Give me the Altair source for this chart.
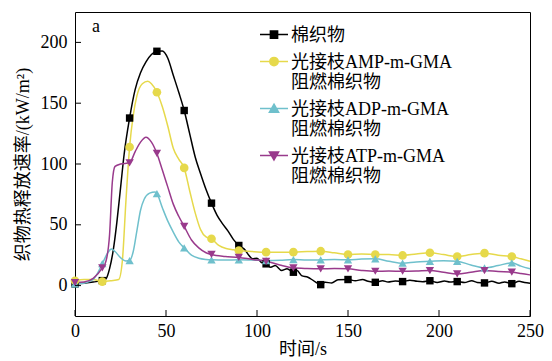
import altair as alt
import pandas as pd

# ---------------- data ----------------
series_names = ["棉织物", "光接枝AMP-m-GMA|阻燃棉织物", "光接枝ADP-m-GMA|阻燃棉织物", "光接枝ATP-m-GMA|阻燃棉织物"]
series_colors = ["#000000", "#E6D94B", "#6FC0CC", "#993A8C"]
marker_shapes = ["square", "circle", "triangle-up", "triangle-down"]
marker_sizes = [55, 75, 70, 70]

x_ticks = [0, 50, 100, 150, 200, 250]
y_ticks = [0, 50, 100, 150, 200]

# curves (time s, heat release rate kW/m2)
cot_t = [0, 5, 10, 15, 17, 19, 21, 23, 25, 27, 30, 33, 36, 39, 42, 45, 48, 51, 54, 57,
         60, 63, 66, 69, 72, 75, 78, 81, 84, 87, 90, 93, 95.5, 97.5, 100, 102.5, 105, 107.5, 110, 113.5,
         116.5, 120, 122, 124.5, 128, 131, 135, 137.5, 141, 144.5, 150, 154, 158, 161, 165, 169, 172, 176, 180, 184,
         188, 191, 195, 199, 203, 206, 210, 214, 218, 221, 225, 229, 233, 236, 240, 244, 247, 250]
cot_y = [1.4, 2, 3, 4.1, 5.5, 14, 29, 52, 80, 108, 137.8, 161, 175, 184, 190, 192.7, 193, 187, 173, 159,
         144, 125, 106, 92, 79, 67.8, 58, 51, 45, 38, 33, 30, 25, 22, 22.5, 19, 17.9, 15, 16.5, 12.5,
         13.8, 11, 12.4, 8.2, 6.9, 4.1, 0.8, 2.7, 2.2, 4.9, 5, 4, 5, 3.5, 2.7, 4, 3, 3.8, 3.3, 4.5,
         3.5, 3.2, 4, 2.6, 3.8, 3, 3.3, 2.5, 4, 2.6, 2.2, 3.5, 2, 3, 1.6, 3.5, 2.5, 2]

amp_t = [0, 5, 10, 15, 20, 24, 26, 28, 30, 32, 34, 37, 40, 42, 45, 48, 51, 54, 57, 60,
         63, 66, 69, 72, 75, 79, 83, 87, 90, 97.5, 105, 112.5, 120, 127.5, 135, 142.5, 150, 157.5, 165, 172.5,
         180, 187.5, 195, 202.5, 210, 217.5, 225, 232.5, 240, 245, 250]
amp_y = [4, 5, 5, 3.3, 4, 5, 20, 70, 114, 140, 156, 166, 168, 166, 159, 147, 131, 113, 104, 96.8,
         78, 60, 46, 40, 38.5, 33, 30.5, 29.5, 28.9, 28, 27.5, 27.5, 27.5, 28, 28.3, 27, 25.6, 26, 25.6, 25.5,
         24.8, 26, 27, 25.5, 23.9, 25.5, 26.7, 25, 23.9, 22, 20]

adp_t = [0, 5, 10, 15, 18, 20, 22, 25, 28, 30, 32, 34, 36, 38, 41, 44, 45, 48, 51, 54,
         57, 60, 64, 68, 72, 75, 82.5, 90, 97.5, 105, 112.5, 120, 127.5, 135, 142.5, 150, 157.5, 165, 172.5, 180,
         187.5, 195, 202.5, 210, 217.5, 225, 232.5, 240, 245, 250]
adp_y = [1.5, 2, 5, 18, 27, 30, 28, 23, 20.2, 20.6, 28, 45, 62, 71, 76, 77, 75.7, 64, 53, 44,
         36, 31, 25, 22.5, 21.5, 21.2, 21, 21.2, 21, 20.6, 20.8, 21.4, 21, 21.2, 21.5, 21.2, 21.8, 22, 20, 18.4,
         19.5, 20, 20.5, 20, 17, 14.6, 16.5, 18.7, 16, 13.8]

atp_t = [0, 5, 10, 15, 17, 19, 20.5, 22, 25, 30, 33, 36, 39, 42, 45, 48, 51, 54, 57, 60,
         64, 68, 72, 75, 82.5, 90, 97.5, 105, 112.5, 120, 127.5, 135, 142.5, 150, 157.5, 165, 172.5, 180, 187.5, 195,
         202.5, 210, 217.5, 225, 232.5, 240, 245, 250]
atp_y = [2.5, 3, 6, 14.5, 20, 42, 85, 98, 100, 101, 110, 118, 122, 118, 108.7, 95, 81, 67, 57, 48.7,
         37.5, 31, 27, 25.6, 24, 23.2, 21.5, 20, 17, 14.6, 14, 13.8, 14, 13.8, 12.5, 11.8, 12, 11.8, 12, 12.4,
         11, 9.6, 11, 12.4, 11.5, 11, 10, 8.8]

# markers every 15 s
marker_t = [0, 15, 30, 45, 60, 75, 90, 105, 120, 135, 150, 165, 180, 195, 210, 225, 240]
cot_m = [1.4, 4.1, 137.8, 192.7, 144, 67.8, 33, 17.9, 11, 0.8, 5, 2.7, 3.3, 4, 3.3, 2.2, 1.6]
amp_m = [4, 3.3, 114, 159, 96.8, 38.5, 28.9, 27.5, 27.5, 28.3, 25.6, 25.6, 24.8, 27, 23.9, 26.7, 23.9]
adp_m = [1.5, 18, 20.6, 75.7, 31, 21.2, 21.2, 20.6, 21.4, 21.2, 21.2, 22, 18.4, 20, 20, 14.6, 18.7]
atp_m = [2.5, 14.5, 101, 108.7, 48.7, 25.6, 23.2, 20, 14.6, 13.8, 13.8, 11.8, 11.8, 12.4, 9.6, 12.4, 11]

# ---------------- tables ----------------
line_sets = [(cot_t, cot_y), (amp_t, amp_y), (adp_t, adp_y), (atp_t, atp_y)]
mark_sets = [cot_m, amp_m, adp_m, atp_m]
line_rows, mark_rows = [], []
for i, name in enumerate(series_names):
    tt, yy = line_sets[i]
    for k, (a, b) in enumerate(zip(tt, yy)):
        line_rows.append({"t": a, "v": b, "s": name, "o": k})
    for a, b in zip(marker_t, mark_sets[i]):
        mark_rows.append({"t": a, "v": b, "s": name})
df_line = pd.DataFrame(line_rows)
df_mark = pd.DataFrame(mark_rows)
df_xt = pd.DataFrame({"t": x_ticks})
df_yt = pd.DataFrame({"v": y_ticks})

W, H = 455, 304
SERIF = "Liberation Serif, Noto Sans CJK SC"

xs = alt.Scale(domain=[0, 250], nice=False, zero=False)
ys = alt.Scale(domain=[-25, 225], nice=False, zero=False)
x_axis = alt.Axis(values=x_ticks, ticks=False, domain=False, grid=False, labelPadding=6,
                  labelFlush=False, title="时间/s", titlePadding=0, format="d")
y_axis = alt.Axis(values=y_ticks, ticks=False, domain=False, grid=False, labelPadding=8,
                  labelFlush=False, title="织物热释放速率/(kW/m²)", titlePadding=8, format="d")

cscale = alt.Scale(domain=series_names, range=series_colors)

leg = alt.Legend(title=None, orient="none", legendX=190, legendY=6, padding=0,
                 labelExpr="split(datum.label, '|')", labelFont=SERIF, labelFontSize=18,
                 labelBaseline="top", labelColor="#000", labelLimit=0,
                 symbolSize=64, symbolStrokeWidth=1.5, symbolOffset=0, labelOffset=8,
                 rowPadding=0)

X = alt.X("t:Q", scale=xs, axis=x_axis)
Y = alt.Y("v:Q", scale=ys, axis=y_axis)
C = alt.Color("s:N", scale=cscale, legend=leg)

lines = alt.Chart(df_line).mark_line(strokeWidth=1.5, interpolate="monotone").encode(
    x=X, y=Y, color=C, order="o:Q")

point_layers = []
for i, name in enumerate(series_names):
    point_layers.append(
        alt.Chart(df_mark).transform_filter(alt.datum.s == name).mark_point(
            shape=marker_shapes[i], filled=True, size=marker_sizes[i], opacity=1
        ).encode(x=X, y=Y, color=C)
    )

# legend symbols: line with marker in the middle (custom paths)
sq = "M-3.5,1.9H3.5M-0.9,1H0.9V2.8H-0.9Z"
ci = "M-3.5,1.9H3.5M-1.05,1.9A1.05,1.05,0,1,0,1.05,1.9A1.05,1.05,0,1,0,-1.05,1.9Z"
tu = "M-3.5,1.9H3.5M0,0.8L1.15,2.8L-1.15,2.8Z"
td = "M-3.5,1.9H3.5M0,3.0L1.15,1.0L-1.15,1.0Z"
legend_paths = [sq, ci, tu, td]

legend_layer = alt.Chart(df_mark).transform_filter("false").mark_point(filled=True, opacity=1, size=64).encode(
    x=X, y=Y,
    color=C,
    stroke=alt.Stroke("s:N", scale=alt.Scale(domain=series_names, range=series_colors), legend=leg),
    shape=alt.Shape("s:N", scale=alt.Scale(domain=series_names, range=legend_paths), legend=leg),
)

xt = alt.Chart(df_xt).mark_rule(color="#000", strokeWidth=1).encode(
    x=X, y=alt.value(H), y2=alt.value(H - 6))
yt = alt.Chart(df_yt).mark_rule(color="#000", strokeWidth=1).encode(
    y=Y, x=alt.value(0), x2=alt.value(6))

label_a = alt.Chart(pd.DataFrame({"lab": ["a"]})).mark_text(
    font="Liberation Serif", fontSize=18, align="left", baseline="alphabetic", color="#000"
).encode(text="lab:N", x=alt.value(17), y=alt.value(20))

chart = alt.layer(lines, *point_layers, legend_layer, xt, yt, label_a).properties(
    width=W, height=H,
    padding={"left": 67, "top": 4, "right": 14, "bottom": 45},
    autosize=alt.AutoSizeParams(type="none"),
).configure(style={"guide-label": {"lineHeight": 20}}).configure_view(
    stroke="#000", strokeWidth=1
).configure_axis(
    labelFont="Liberation Serif", labelFontSize=18, labelColor="#000",
    titleFont=SERIF, titleFontSize=18, titleFontWeight="normal", titleColor="#000",
)

chart.save("out.html", embed_options={"renderer": "svg", "actions": False})
